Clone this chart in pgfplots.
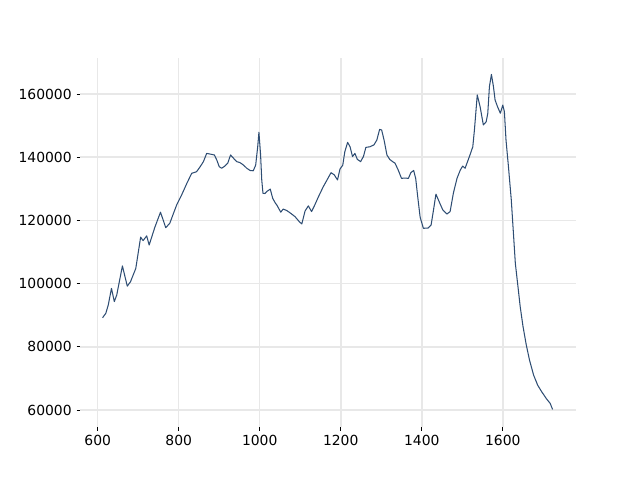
\documentclass[border=0pt]{standalone}
\usepackage{fontspec}
\setmainfont{DejaVu Sans}
\usepackage{pgfplots}
\pgfplotsset{compat=1.18}
\definecolor{lineblue}{RGB}{46,77,115}
\begin{document}
\begin{tikzpicture}
\path[use as bounding box] (0,0) rectangle (460.8pt,345.6pt);
\begin{axis}[
  at={(57.6pt,38.0pt)}, anchor=south west,
  scale only axis, width=357.1pt, height=266.1pt,
  xmin=556.3, xmax=1780.7, ymin=54560, ymax=171500,
  axis line style={draw=none},
  xtick={600,800,1000,1200,1400,1600},
  xticklabels={600,800,1000,1200,1400,1600},
  ytick={60000,80000,100000,120000,140000,160000},
  yticklabels={60000,80000,100000,120000,140000,160000},
  scaled y ticks=false, scaled x ticks=false,
  tick align=outside, major tick length=2.5pt,
  tick style={black, line width=0.6pt},
  xtick pos=bottom, ytick pos=left,
  grid=major, major grid style={color=black!9, line width=1.1pt},
  ticklabel style={font=\fontsize{10}{12}\selectfont},
]
\addplot[lineblue, line width=0.75pt, no marks, line join=round] coordinates {
(612,89200) (620,90600) (626,93200) (634,98500) (641,94300) (647,96400) (661,105600) (673,99200) (681,100600) (694,104800) (706,114700) (712,113600) (721,115100) (727,112200) (741,117800) (755,122600) (768,117700) (778,119100) (787,122200) (795,124900) (807,128000) (820,131700) (832,134900) (844,135400) (853,137000) (861,138600) (869,141200) (881,140900) (888,140700) (894,139100) (900,137000) (906,136500) (914,137200) (921,138100) (928,140700) (935,139700) (943,138600) (951,138300) (960,137500) (968,136500) (976,135800) (984,135700) (990,137500) (995,143300) (998,147900) (1002,141000) (1005,132800) (1008,128600) (1013,128500) (1017,129100) (1026,129900) (1032,127000) (1038,125600) (1042,124900) (1052,122600) (1058,123600) (1067,123100) (1077,122200) (1087,121200) (1099,119400) (1104,118900) (1112,123000) (1120,124600) (1128,122800) (1136,124900) (1145,127500) (1157,130700) (1167,133000) (1176,135100) (1184,134400) (1192,132800) (1198,136200) (1205,137500) (1210,141700) (1217,144700) (1223,143300) (1229,140200) (1235,141200) (1241,139300) (1249,138600) (1256,140200) (1262,143100) (1272,143300) (1282,143900) (1289,145400) (1296,148800) (1301,148600) (1307,145400) (1314,140700) (1321,139300) (1328,138600) (1334,138100) (1342,135900) (1350,133300) (1358,133400) (1367,133300) (1373,135100) (1380,135800) (1385,133300) (1390,127500) (1396,121000) (1404,117500) (1416,117600) (1423,118500) (1429,123300) (1435,128300) (1443,125900) (1452,123300) (1462,122000) (1470,122800) (1478,128600) (1487,133300) (1495,135900) (1501,137200) (1507,136500) (1513,138600) (1519,140700) (1526,143300) (1530,148600) (1537,159700) (1544,156000) (1552,150200) (1559,151200) (1563,153900) (1567,162300) (1572,166200) (1577,162300) (1581,158100) (1587,156000) (1594,153900) (1600,156500) (1604,154400) (1608,145400) (1614,137000) (1621,126500) (1627,114500) (1631,106400) (1637,99600) (1643,92700) (1650,86400) (1658,80600) (1666,75800) (1676,71100) (1686,67900) (1696,65800) (1707,63700) (1717,62100) (1723,60200)
};
\end{axis}
\end{tikzpicture}
\end{document}
